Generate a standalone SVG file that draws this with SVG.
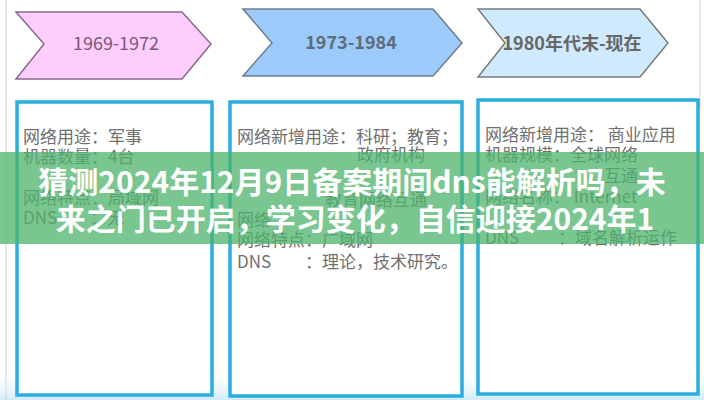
<svg xmlns="http://www.w3.org/2000/svg" width="704" height="400" viewBox="0 0 704 400">
<defs>
<style>
.box{fill:#ffffff;stroke:#2aaee0;stroke-width:3.5}
.t{font-family:"Noto Sans CJK SC","Liberation Sans",sans-serif;font-size:17px;fill:#707070}
.ch{stroke-width:1.5}
.cl{font-family:"Noto Sans CJK SC","Liberation Sans",sans-serif;font-size:18px}
.ban{font-family:"Noto Sans CJK SC","Noto Sans",sans-serif;font-size:30px;font-weight:bold;fill:#ffffff}
</style>
<linearGradient id="bot" x1="0" y1="0" x2="0" y2="1">
<stop offset="0" stop-color="#ffffff" stop-opacity="0"/>
<stop offset="1" stop-color="#cfeaf8"/>
</linearGradient>
</defs>
<rect width="704" height="400" fill="#ffffff"/>
<rect x="0" y="370" width="704" height="30" fill="url(#bot)"/>
<line x1="6" y1="0" x2="6" y2="400" stroke="#d4d4d4" stroke-width="1"/>
<line x1="700" y1="0" x2="700" y2="110" stroke="#d4d4d4" stroke-width="1"/>

<g id="connectors"></g>

<g id="era1">
<polygon class="ch" points="16,12 182,12 211,44 182,79 16,79 44,44" fill="#fdcdfd" stroke="#8a6a8a"/>
<text class="cl" x="116" y="50" text-anchor="middle" fill="#7a5a7a">1969-1972</text>
</g>
<g id="era2">
<polygon class="ch" points="243,9 433,9 462,43 433,76 243,76 272,43" fill="#9ccbfb" stroke="#6e7e8e"/>
<text class="cl" x="351" y="49" text-anchor="middle" font-weight="bold" fill="#5d6b7a">1973-1984</text>
</g>
<g id="era3">
<polygon class="ch" points="478,9 640,9 668,43 640,77 478,77 505,43" fill="#cfe9fd" stroke="#7a7a7a"/>
<text class="cl" x="572" y="50" text-anchor="middle" font-weight="bold" fill="#666666">1980年代末-现在</text>
</g>

<g id="box1">
<rect class="box" x="17" y="102" width="195" height="293"/>
<text class="t" x="23" y="143">网络用途：军事</text>
<text class="t" x="23" y="163">机器数量：4台</text>
<text class="t" x="23" y="204">网络特点：局域网</text>
<text class="t" x="23" y="224">DNS</text>
<text class="t" x="90" y="224">：无</text>
</g>
<g id="box2">
<rect class="box" x="230" y="102" width="232" height="294"/>
<text class="t" x="237" y="143">网络新增用途：科研；教育；</text>
<text class="t" x="357" y="161">政府机构</text>
<text class="t" x="325" y="206">教育网络互通</text>
<text class="t" x="237" y="226">网络</text>
<text class="t" x="237" y="246">网络特点：广域网</text>
<text class="t" x="237" y="268">DNS</text>
<text class="t" x="305" y="268">：理论，技术研究。</text>
</g>
<g id="box3">
<rect class="box" x="478" y="100" width="220" height="294"/>
<text class="t" x="485" y="141">网络新增用途： 商业应用</text>
<text class="t" x="485" y="161">机器规模：全球网络</text>
<text class="t" x="604" y="182">互通</text>
<text class="t" x="485" y="203">网络名称： Internet</text>
<text class="t" x="485" y="244">DNS</text>
<text class="t" x="558" y="244">：域名解析运作</text>
</g>

<g id="banner">
<rect x="0" y="152" width="704" height="92" fill="#4db36b" opacity="0.75"/>
<text class="ban" x="352" y="193" text-anchor="middle">猜测2024年12月9日备案期间dns能解析吗，未</text>
<text class="ban" x="355" y="230" text-anchor="middle">来之门已开启，学习变化，自信迎接2024年1</text>
</g>
</svg>
